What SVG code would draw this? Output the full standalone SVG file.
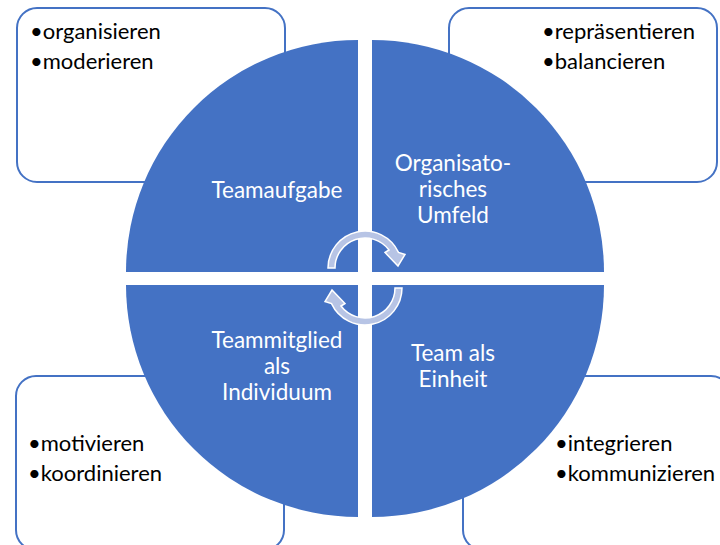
<svg xmlns="http://www.w3.org/2000/svg" width="720" height="545" viewBox="0 0 720 545">
  <style>
    .box { fill: #ffffff; stroke: #4472c4; stroke-width: 2; }
    .quad { fill: #4472c4; }
    .bullet { font-family: "Lato", "Liberation Sans", sans-serif; font-size: 22px; fill: #000000; }
    .label { font-family: "Lato", "Liberation Sans", sans-serif; font-size: 22.5px; fill: #ffffff; text-anchor: middle; }
    .cyc { fill: #b7c4e5; stroke: #ffffff; stroke-width: 1.5; stroke-linejoin: miter; }
  </style>

  <!-- corner boxes (drawn behind the circle) -->
  <g id="box-top-left">
    <rect class="box" x="17" y="8" width="268" height="174" rx="20"/>
    <text class="bullet" x="30" y="39">•organisieren</text>
    <text class="bullet" x="30" y="69">•moderieren</text>
  </g>
  <g id="box-top-right">
    <rect class="box" x="449" y="8" width="268" height="174" rx="20"/>
    <text class="bullet" x="542" y="39">•repräsentieren</text>
    <text class="bullet" x="542" y="69">•balancieren</text>
  </g>
  <g id="box-bottom-left">
    <rect class="box" x="16" y="376" width="268" height="174" rx="20"/>
    <text class="bullet" x="28" y="451">•motivieren</text>
    <text class="bullet" x="28" y="481">•koordinieren</text>
  </g>
  <g id="box-bottom-right">
    <rect class="box" x="463" y="376" width="268" height="174" rx="20"/>
    <text class="bullet" x="555" y="451">•integrieren</text>
    <text class="bullet" x="555" y="481">•kommunizieren</text>
  </g>

  <!-- circle split into four quarter sectors -->
  <g id="quad-teamaufgabe">
    <path class="quad" d="M358,272 L126,272 A232,232 0 0 1 358,40 Z"/>
    <text class="label" x="277" y="198">Teamaufgabe</text>
  </g>
  <g id="quad-umfeld">
    <path class="quad" d="M372,272 L372,40 A232,232 0 0 1 604,272 Z"/>
    <text class="label" x="453" y="171">Organisato-</text>
    <text class="label" x="453" y="197">risches</text>
    <text class="label" x="453" y="223">Umfeld</text>
  </g>
  <g id="quad-einheit">
    <path class="quad" d="M372,285 L604,285 A232,232 0 0 1 372,517 Z"/>
    <text class="label" x="453" y="361">Team als</text>
    <text class="label" x="453" y="387">Einheit</text>
  </g>
  <g id="quad-individuum">
    <path class="quad" d="M358,285 L358,517 A232,232 0 0 1 126,285 Z"/>
    <text class="label" x="277" y="348">Teammitglied</text>
    <text class="label" x="277" y="374">als</text>
    <text class="label" x="277" y="400">Individuum</text>
  </g>

  <!-- cycle arrows in the centre -->
  <g id="connectors">
    <path id="arrow-top" class="cyc" d="M328,268 A37,37 0 0 1 398.5,252.4 L405,254.5 L398,266 L385,252.5 L389,250 A30,30 0 0 0 335,268 Z"/>
    <path id="arrow-bottom" class="cyc" transform="rotate(180 365 278)" d="M328,268 A37,37 0 0 1 398.5,252.4 L405,254.5 L398,266 L385,252.5 L389,250 A30,30 0 0 0 335,268 Z"/>
  </g>
</svg>
